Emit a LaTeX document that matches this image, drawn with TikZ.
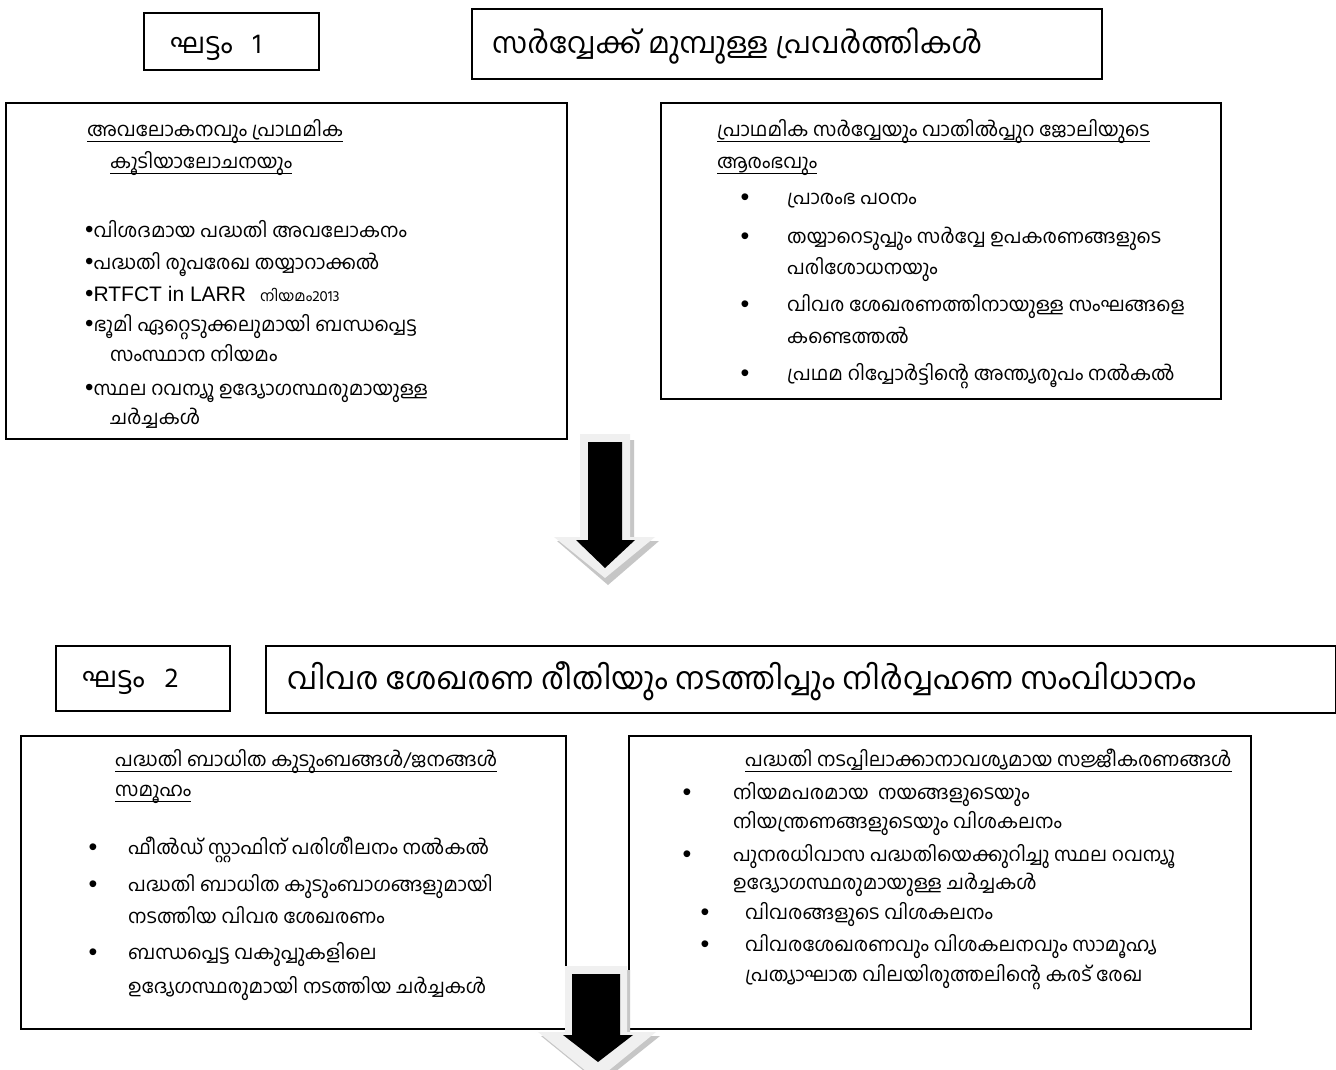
\documentclass[tikz,border=0pt]{standalone}
\usepackage{fontspec}
\setmainfont{Liberation Sans}
\newfontfamily\ml[Script=Malayalam]{Hind Kochi}
\newfontfamily\lat{Liberation Sans}
\newcommand\smallbul{{\lat\fontsize{24}{20}\selectfont •}}
\begin{document}
\begin{tikzpicture}[x=1pt,y=-1pt,
  box/.style={draw=black,line width=1.6pt,fill=white,inner sep=0pt,anchor=north west},
  txt/.style={inner sep=0pt,anchor=base west,font=\ml\fontsize{19.3}{22}\selectfont},
  head/.style={inner sep=0pt,anchor=base west,font=\ml\fontsize{19.3}{22}\selectfont},
  bul/.style={inner sep=0pt,anchor=base,font=\lat\fontsize{25}{26}\selectfont},
  uline/.style={line width=0.9pt}]
\useasboundingbox[fill=white] (0,0) rectangle (1336,1069);

% ---------- phase 1 ----------
\node[box,minimum width=175pt,minimum height=57pt] (ph1) at (143,12) {};
\node[txt,font=\ml\fontsize{28}{32}\selectfont] (ph1t) at (170,53) {ഘട്ടം\hspace{20pt}1};
\node[box,minimum width=630pt,minimum height=70pt] (t1) at (471,8) {};
\node[txt,font=\ml\fontsize{29}{34}\selectfont] (t1t) at (492,53) {സർവ്വേക്ക് മുമ്പുള്ള പ്രവർത്തികൾ};

% left box 1
\node[box,minimum width=561pt,minimum height=336pt] (b1l) at (5,102) {};
\node[head] (a1) at (87,136) {അവലോകനവും പ്രാഥമിക};
\node[head] (a2) at (110,168) {കൂടിയാലോചനയും};
\draw[uline] ([yshift=-5pt]a1.base west) -- ([yshift=-5pt]a1.base east);
\draw[uline] ([yshift=-5pt]a2.base west) -- ([yshift=-5pt]a2.base east);
\node[txt] (a3) at (85,237) {\smallbul വിശദമായ പദ്ധതി അവലോകനം};
\node[txt] (a4) at (85,269) {\smallbul പദ്ധതി രൂപരേഖ തയ്യാറാക്കൽ};
\node[txt] (a5) at (85,301) {\smallbul{\lat\fontsize{21}{22}\selectfont RTFCT in LARR}\hspace{14pt}{\fontsize{15}{17}\selectfont നിയമം2013}};
\node[txt] (a6) at (85,331) {\smallbul ഭൂമി ഏറ്റെടുക്കലുമായി ബന്ധപ്പെട്ട};
\node[txt] (a7) at (110,361) {സംസ്ഥാന നിയമം};
\node[txt] (a8) at (85,395) {\smallbul സ്ഥല റവന്യൂ ഉദ്യോഗസ്ഥരുമായുള്ള};
\node[txt] (a9) at (110,424) {ചർച്ചകൾ};

% right box 1
\node[box,minimum width=560pt,minimum height=296pt] (b1r) at (660,102) {};
\node[head] (c1) at (717,136) {പ്രാഥമിക സർവ്വേയും വാതിൽപ്പുറ ജോലിയുടെ};
\node[head] (c2) at (717,168) {ആരംഭവും};
\draw[uline] ([yshift=-5pt]c1.base west) -- ([yshift=-5pt]c1.base east);
\draw[uline] ([yshift=-5pt]c2.base west) -- ([yshift=-5pt]c2.base east);
\node[bul] (cb1) at (745,205) {•};
\node[txt] (c3) at (787,204) {പ്രാരംഭ പഠനം};
\node[bul] (cb2) at (745,244) {•};
\node[txt] (c4) at (787,243) {തയ്യാറെടുപ്പും സർവ്വേ ഉപകരണങ്ങളുടെ};
\node[txt] (c5) at (787,274) {പരിശോധനയും};
\node[bul] (cb3) at (745,312) {•};
\node[txt] (c6) at (787,311) {വിവര ശേഖരണത്തിനായുള്ള സംഘങ്ങളെ};
\node[txt] (c7) at (787,343) {കണ്ടെത്തൽ};
\node[bul] (cb4) at (745,381) {•};
\node[txt] (c8) at (787,380) {പ്രഥമ റിപ്പോർട്ടിന്റെ അന്ത്യരൂപം നൽകൽ};

% arrow 1
\fill[gray!45] (583,440) -- (634,440) -- (634,541) -- (659,541) -- (608,585) -- (557,541) -- (583,541) -- cycle;
\fill[gray!12] (580,434) -- (630,434) -- (630,537) -- (655,537) -- (605,578) -- (554,537) -- (580,537) -- cycle;
\fill[black] (588,442) -- (622,442) -- (622,540) -- (635,540) -- (605,568) -- (576,540) -- (588,540) -- cycle;

% ---------- phase 2 ----------
\node[box,minimum width=174pt,minimum height=65pt] (ph2) at (55,645) {};
\node[txt,font=\ml\fontsize{28}{32}\selectfont] (ph2t) at (82,687) {ഘട്ടം\hspace{20pt}2};
\node[box,minimum width=1070pt,minimum height=67pt] (t2) at (265,645) {};
\node[txt,font=\ml\fontsize{30.7}{35}\selectfont] (t2t) at (287,689) {വിവര ശേഖരണ രീതിയും നടത്തിപ്പും നിർവ്വഹണ സംവിധാനം};

% left box 2
\node[box,minimum width=545pt,minimum height=293pt] (b2l) at (20,735) {};
\node[head] (d1) at (115,766) {പദ്ധതി ബാധിത കുടുംബങ്ങൾ/ജനങ്ങൾ};
\node[head] (d2) at (115,796) {സമൂഹം};
\draw[uline] ([yshift=-5pt]d1.base west) -- ([yshift=-5pt]d1.base east);
\draw[uline] ([yshift=-5pt]d2.base west) -- ([yshift=-5pt]d2.base east);
\node[bul] (db1) at (93,855) {•};
\node[txt] (d3) at (128,854) {ഫീൽഡ് സ്റ്റാഫിന് പരിശീലനം നൽകൽ};
\node[bul] (db2) at (93,892) {•};
\node[txt] (d4) at (128,891) {പദ്ധതി ബാധിത കുടുംബാഗങ്ങളുമായി};
\node[txt] (d5) at (128,923) {നടത്തിയ വിവര ശേഖരണം};
\node[bul] (db3) at (93,960) {•};
\node[txt] (d6) at (128,959) {ബന്ധപ്പെട്ട വകുപ്പുകളിലെ};
\node[txt] (d7) at (128,993) {ഉദ്യേഗസ്ഥരുമായി നടത്തിയ ചർച്ചകൾ};

% right box 2
\node[box,minimum width=622pt,minimum height=293pt] (b2r) at (628,735) {};
\node[head] (e1) at (745,766) {പദ്ധതി നടപ്പിലാക്കാനാവശ്യമായ സജ്ജീകരണങ്ങൾ};
\draw[uline] ([yshift=-5pt]e1.base west) -- ([yshift=-5pt]e1.base east);
\node[bul] (eb1) at (687,800) {•};
\node[txt] (e2) at (733,799) {നിയമപരമായ\ \ നയങ്ങളുടെയും};
\node[txt] (e3) at (733,828) {നിയന്ത്രണങ്ങളുടെയും വിശകലനം};
\node[bul] (eb2) at (687,862) {•};
\node[txt] (e4) at (733,861) {പുനരധിവാസ പദ്ധതിയെക്കുറിച്ചു സ്ഥല റവന്യൂ};
\node[txt] (e5) at (733,889) {ഉദ്യോഗസ്ഥരുമായുള്ള ചർച്ചകൾ};
\node[bul] (eb3) at (705,920) {•};
\node[txt] (e6) at (745,919) {വിവരങ്ങളുടെ വിശകലനം};
\node[bul] (eb4) at (705,952) {•};
\node[txt] (e7) at (745,951) {വിവരശേഖരണവും വിശകലനവും സാമൂഹ്യ};
\node[txt] (e8) at (745,981) {പ്രത്യാഘാത വിലയിരുത്തലിന്റെ കരട് രേഖ};

% arrow 2
\begin{scope}
\clip (0,0) rectangle (1336,1069);
\fill[gray!45] (568,970) -- (630,970) -- (630,1036) -- (660,1036) -- (600,1084) -- (541,1036) -- (568,1036) -- cycle;
\fill[gray!12] (565,966) -- (627,966) -- (627,1032) -- (656,1032) -- (597,1080) -- (538,1032) -- (565,1032) -- cycle;
\fill[black] (572,974) -- (620,974) -- (620,1035) -- (633,1035) -- (598,1062) -- (563,1035) -- (572,1035) -- cycle;
\end{scope}
\end{tikzpicture}
\end{document}
